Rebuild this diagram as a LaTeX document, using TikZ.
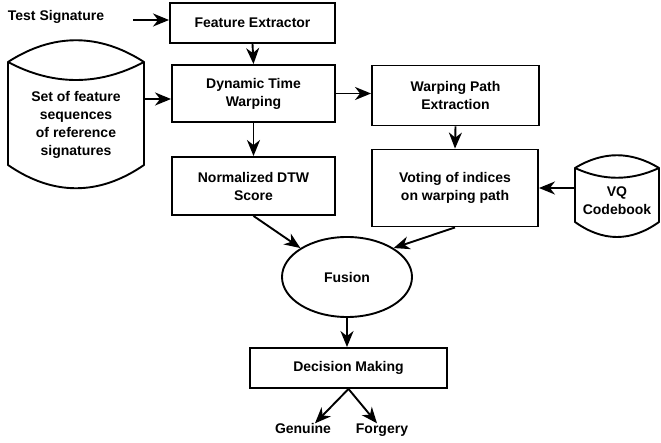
\documentclass[tikz,border=0pt]{standalone}
\usepackage{fontspec}
\setmainfont{Liberation Sans}
\usetikzlibrary{arrows.meta,shapes.geometric}
\begin{document}
\begin{tikzpicture}[x=1pt,y=-1pt,
  every node/.style={font=\fontsize{14}{18}\selectfont\bfseries, align=center},
  box/.style={draw, line width=1.9pt, inner sep=0pt},
  oval/.style={draw, ellipse, line width=1.9pt, inner sep=0pt, minimum width=130, minimum height=80},
  lbl/.style={inner sep=1pt, text height=10pt, text depth=3pt},
  arr/.style={line width=1.9pt, -{Stealth[length=16pt,width=13pt,inset=5pt]}},
  drum/.style={line width=1.9pt, line join=round}]
\useasboundingbox (0,0) rectangle (661,443);

% input label
\node[lbl] (test) at (56,17) {Test Signature};
\coordinate (testarr) at (133,20);

% processing boxes
\node[box, minimum width=165, minimum height=40] (fe) at (252.5,23) {Feature Extractor};
\node[box, minimum width=163, minimum height=57] (dtw) at (253.5,93.5) {Dynamic Time\\Warping};
\node[box, minimum width=163, minimum height=58] (norm) at (253.5,186) {Normalized DTW\\Score};
\node[box, minimum width=167, minimum height=60] (wpe) at (455.5,95.5) {Warping Path\\Extraction};
\node[box, minimum width=166, minimum height=77] (vote) at (455,188) {Voting of indices\\on warping path};
\node[oval] (fusion) at (347,277) {Fusion};
\node[box, minimum width=197, minimum height=40] (dec) at (348.5,368) {Decision Making};
\node[lbl] (gen) at (303,430) {Genuine};
\node[lbl] (forg) at (382,430) {Forgery};

% reference database drum
\draw[drum] (8,62) .. controls (53,33) and (99,33) .. (144,62)
            .. controls (99,86) and (53,86) .. (8,62) -- (8,165)
            .. controls (53,196) and (99,196) .. (144,165) -- (144,62);
\node[inner sep=0pt, minimum width=136, minimum height=80] (refs) at (76,125)
  {Set of feature\\sequences\\of reference\\signatures};
\coordinate (refsout) at (144,99);

% codebook drum
\draw[drum] (575,168) .. controls (603,151) and (631,151) .. (659,168)
            .. controls (631,181) and (603,181) .. (575,168) -- (575,222)
            .. controls (603,242) and (631,242) .. (659,222) -- (659,168);
\node[inner sep=0pt, minimum width=84, minimum height=40] (vq) at (617,201) {VQ\\Codebook};
\coordinate (vqout) at (575,188);

% connectors
\draw[arr] (testarr) -- (testarr -| fe.west);
\draw[arr] (fe.south) -- (dtw.north);
\draw[arr] (refsout) -- (refsout -| dtw.west);
\draw[arr] (dtw.east) -- (dtw.east -| wpe.west);
\draw[arr] (dtw.south) -- (norm.north);
\draw[arr] (wpe.south) -- (vote.north);
\draw[arr] (vqout) -- (vqout -| vote.east);
\draw[arr] (norm.south) -- (fusion.north west);
\draw[arr] (vote.south) -- (fusion.north east);
\draw[arr] (fusion.south) -- (fusion.south |- dec.north);
\draw[arr] (dec.south) -- ([xshift=12pt,yshift=-1pt]gen.north);
\draw[arr] (dec.south) -- ([xshift=-5pt,yshift=-1pt]forg.north);
\end{tikzpicture}
\end{document}
